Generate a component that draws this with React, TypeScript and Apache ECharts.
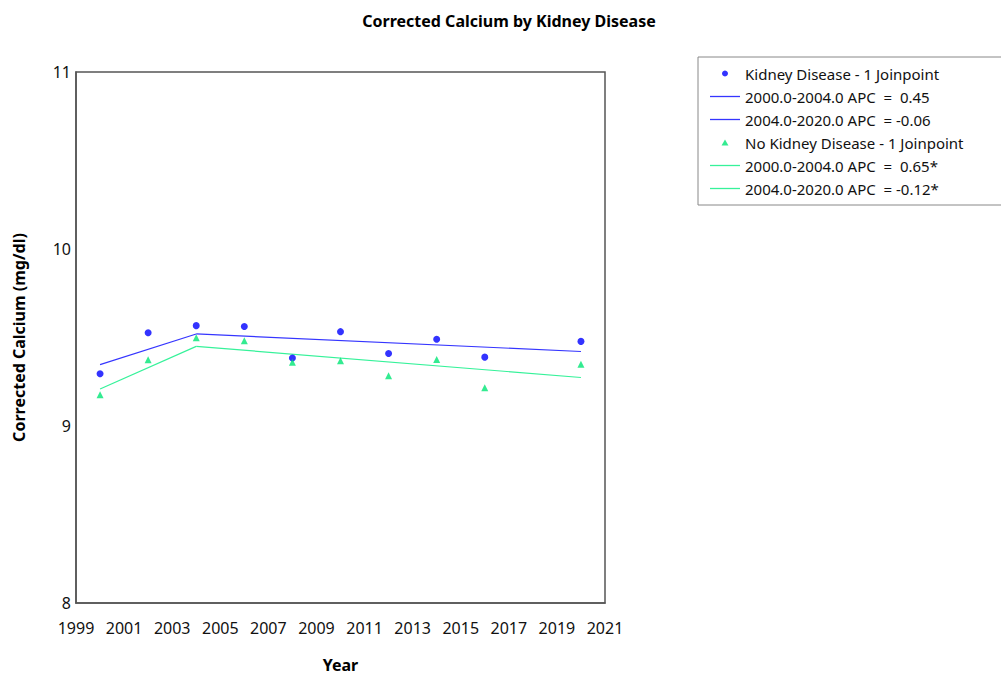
import React, { useEffect, useRef } from "react";
import * as echarts from "echarts";

const years = [2000, 2002, 2004, 2006, 2008, 2010, 2012, 2014, 2016, 2020];
const kidneyObserved = [9.295, 9.527, 9.567, 9.562, 9.384, 9.533, 9.41, 9.49, 9.389, 9.478];
const noKidneyObserved = [9.176, 9.374, 9.499, 9.482, 9.36, 9.369, 9.284, 9.376, 9.216, 9.349];

const segYears1 = [2000, 2004];
const segYears2 = [2004, 2020];
const kidneyFit1 = [9.347, 9.52];
const kidneyFit2 = [9.52, 9.421];
const noKidneyFit1 = [9.209, 9.45];
const noKidneyFit2 = [9.45, 9.274];

const xTickLabels = [1999, 2001, 2003, 2005, 2007, 2009, 2011, 2013, 2015, 2017, 2019, 2021];
const yTicks = [8, 9, 10, 11];

const names = {
  kidney: "Kidney Disease - 1 Joinpoint",
  k1: "2000.0-2004.0 APC  =  0.45",
  k2: "2004.0-2020.0 APC  = -0.06",
  noKidney: "No Kidney Disease - 1 Joinpoint",
  n1: "2000.0-2004.0 APC  =  0.65*",
  n2: "2004.0-2020.0 APC  = -0.12*",
};

const BLUE_PT = "#0000FF";
const BLUE_LN = "#3535FF";
const GREEN_PT = "#00E676";
const GREEN_LN = "#36F29A";
const FONT = "Noto Sans";

const LINE_ICON = "path://M0,0H30V1.3H0Z";
const TRI_ICON = "path://M5,0L10,8.66L0,8.66Z";

const zip = (xs: number[], ys: number[]) => xs.map((x, i) => [x, ys[i]]);

export default function App() {
  const ref = useRef<HTMLDivElement>(null);
  useEffect(() => {
    if (!ref.current) return;
    const chart = echarts.init(ref.current, undefined, { renderer: "svg" });
    const lineSeries = (name: string, xs: number[], ys: number[], color: string) => ({
      name,
      type: "line",
      data: zip(xs, ys),
      symbol: "none",
      showSymbol: false,
      lineStyle: { color, width: 1.2 },
      itemStyle: { color },
      z: 2,
    });
    chart.setOption({
      animation: false,
      backgroundColor: "#ffffff",
      textStyle: { fontFamily: FONT },
      title: {
        text: "Corrected Calcium by Kidney Disease",
        left: 504,
        top: 8,
        textAlign: "center",
        textStyle: { fontFamily: FONT, fontSize: 16, fontWeight: "bold", color: "#000" },
      },
      grid: {
        left: 76,
        top: 72,
        right: 396,
        bottom: 72,
        show: true,
        borderColor: "#555",
        borderWidth: 1.5,
        containLabel: false,
        outerBoundsMode: "none",
      },
      legend: {
        orient: "vertical",
        left: 698,
        top: 57,
        padding: [9, 60, 9, 12],
        itemGap: 8,
        itemWidth: 30,
        itemHeight: 6,
        symbolKeepAspect: true,
        borderColor: "#888",
        borderWidth: 1,
        textStyle: { fontFamily: FONT, fontSize: 15, color: "#111" },
        data: [
          { name: names.kidney, icon: "circle" },
          { name: names.k1, icon: LINE_ICON },
          { name: names.k2, icon: LINE_ICON },
          { name: names.noKidney, icon: TRI_ICON },
          { name: names.n1, icon: LINE_ICON },
          { name: names.n2, icon: LINE_ICON },
        ],
      },
      xAxis: {
        type: "value",
        min: 1999,
        max: 2021,
        name: "Year",
        nameLocation: "middle",
        nameGap: 54,
        nameTextStyle: { fontFamily: FONT, fontSize: 16, fontWeight: "bold", color: "#000" },
        axisLine: { show: true, lineStyle: { color: "#555", width: 1.5 } },
        axisTick: { show: false },
        splitLine: { show: false },
        axisLabel: {
          customValues: xTickLabels,
          margin: 17,
          fontFamily: FONT,
          fontSize: 16,
          color: "#111",
          formatter: (v: number) => String(v),
        },
      },
      yAxis: {
        type: "value",
        min: 8,
        max: 11,
        interval: 1,
        name: "Corrected Calcium (mg/dl)",
        nameLocation: "middle",
        nameGap: 49,
        nameTextStyle: { fontFamily: FONT, fontSize: 16, fontWeight: "bold", color: "#000" },
        axisLine: { show: true, lineStyle: { color: "#555", width: 1.5 } },
        axisTick: { show: false },
        splitLine: { show: false },
        axisLabel: {
          customValues: yTicks,
          margin: 5,
          fontFamily: FONT,
          fontSize: 16,
          color: "#111",
        },
      },
      series: [
        {
          name: names.kidney,
          type: "scatter",
          data: zip(years, kidneyObserved),
          symbol: "circle",
          symbolSize: 7,
          itemStyle: { color: BLUE_PT },
          z: 3,
        },
        lineSeries(names.k1, segYears1, kidneyFit1, BLUE_LN),
        lineSeries(names.k2, segYears2, kidneyFit2, BLUE_LN),
        {
          name: names.noKidney,
          type: "scatter",
          data: zip(years, noKidneyObserved),
          symbol: "triangle",
          symbolSize: 7,
          itemStyle: { color: GREEN_PT },
          z: 3,
        },
        lineSeries(names.n1, segYears1, noKidneyFit1, GREEN_LN),
        lineSeries(names.n2, segYears2, noKidneyFit2, GREEN_LN),
      ],
    });
    return () => chart.dispose();
  }, []);
  return (
    <div
      ref={ref}
      style={{ position: "fixed", left: 0, top: 0, width: 1001, height: 675, background: "#fff" }}
    />
  );
}
